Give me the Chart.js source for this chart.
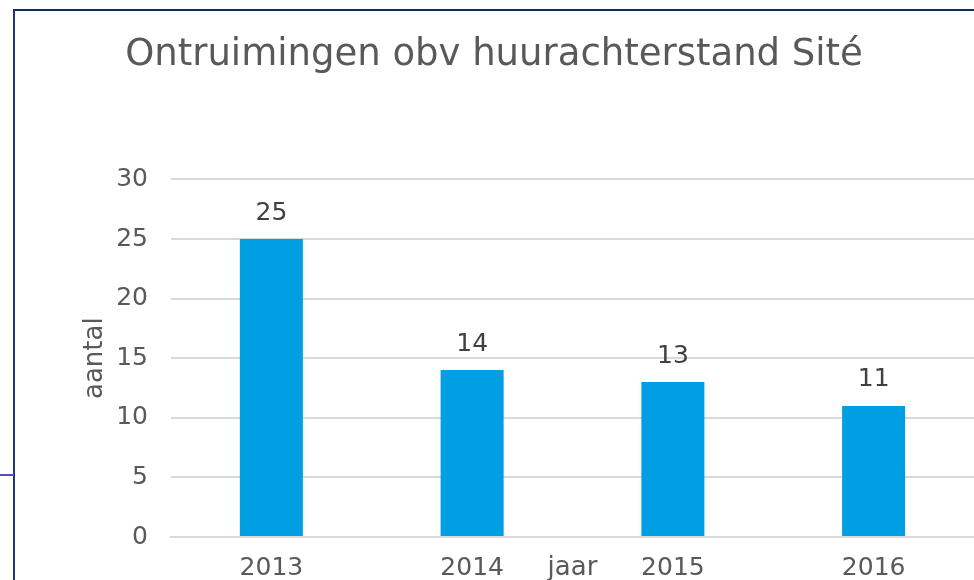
<!DOCTYPE html>
<html>
<head>
<meta charset="utf-8">
<script src="https://cdn.jsdelivr.net/npm/chart.js@4/dist/chart.umd.min.js"></script>
<style>
  html, body { margin: 0; padding: 0; background: #ffffff; }
  #wrap { position: relative; width: 974px; height: 580px; overflow: hidden; }
  #frame { position: absolute; left: 13px; top: 9px; width: 1000px; height: 1000px;
           border-left: 2px solid #23357a; border-top: 2px solid #0f2a66; box-sizing: border-box; }
  #tick { position: absolute; left: 0; top: 474px; width: 14px; height: 2px; background: #5a4bb0; }
  canvas { position: absolute; left: 0; top: 0; }
</style>
</head>
<body>
<div id="wrap">
  <div id="frame"></div>
  <div id="tick"></div>
  <canvas id="c" width="974" height="580"></canvas>
</div>
<script>
const titleText = 'Ontruimingen obv huurachterstand Sité';
const categories = ['2013', '2014', '2015', '2016'];
const evictions = [25, 14, 13, 11];
const yTickValues = [0, 5, 10, 15, 20, 25, 30];
const yAxisTitle = 'aantal';
const xAxisTitle = 'jaar';

const FONT = "'DejaVu Sans', Verdana, sans-serif";

const valueLabels = {
  id: 'valueLabels',
  afterDatasetsDraw(chart) {
    const ctx = chart.ctx;
    ctx.save();
    ctx.font = '25px ' + FONT;
    ctx.fillStyle = '#404040';
    ctx.textAlign = 'center';
    ctx.textBaseline = 'middle';
    chart.data.datasets.forEach((ds, di) => {
      chart.getDatasetMeta(di).data.forEach((bar, i) => {
        ctx.fillText(String(ds.data[i]), bar.x, bar.y - 26);
      });
    });
    ctx.restore();
  }
};

new Chart(document.getElementById('c'), {
  type: 'bar',
  data: {
    labels: categories,
    datasets: [{
      label: yAxisTitle,
      data: evictions,
      backgroundColor: '#009FE3',
      borderWidth: 0,
      barPercentage: 0.314,
      categoryPercentage: 1.0
    }]
  },
  options: {
    responsive: false,
    animation: false,
    events: [],
    layout: { padding: { left: 14, right: 0, top: 0, bottom: 0 } },
    plugins: {
      legend: { display: false },
      tooltip: { enabled: false },
      title: {
        display: true,
        text: titleText,
        color: '#595959',
        font: { family: FONT, size: 37, weight: 'normal' },
        padding: { top: 33, bottom: 102 }
      }
    },
    scales: {
      x: {
        grid: { display: false, drawTicks: false },
        border: { display: true, color: '#D9D9D9', width: 2 },
        ticks: { color: '#595959', font: { family: FONT, size: 25 }, padding: 16, maxRotation: 0 },
        title: { display: true, text: xAxisTitle, color: '#595959',
                 font: { family: FONT, size: 26 }, padding: { top: 0, bottom: -4 } },
        afterFit(scale) { scale.height = 43; }
      },
      y: {
        min: 0, max: 30,
        afterBuildTicks(scale) { scale.ticks = yTickValues.map(v => ({ value: v })); },
        grid: { color: '#D9D9D9', lineWidth: 2, drawTicks: false },
        border: { display: false },
        ticks: { color: '#595959', font: { family: FONT, size: 25 }, padding: 23 },
        title: { display: true, text: yAxisTitle, color: '#595959',
                 font: { family: FONT, size: 26 }, padding: { top: 66, bottom: 0 } },
        afterFit(scale) { scale.width = 157; }
      }
    }
  },
  plugins: [valueLabels]
});
</script>
</body>
</html>
